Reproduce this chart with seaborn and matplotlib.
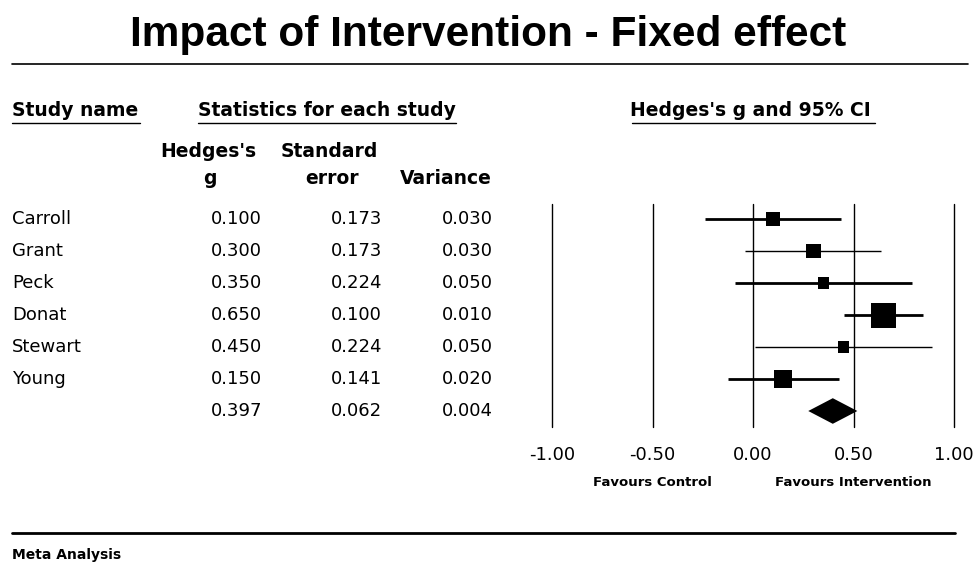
import numpy as np
import matplotlib
matplotlib.use("Agg")
import matplotlib.pyplot as plt
import seaborn as sns
from matplotlib.lines import Line2D

# Forest plot data
studies = ["Carroll", "Grant", "Peck", "Donat", "Stewart", "Young"]
hedges_g = [0.100, 0.300, 0.350, 0.650, 0.450, 0.150]
std_err = [0.173, 0.173, 0.224, 0.100, 0.224, 0.141]
variance = [0.030, 0.030, 0.050, 0.010, 0.050, 0.020]
ci_lower = [-0.239, -0.039, -0.089, 0.454, 0.011, -0.126]
ci_upper = [0.439, 0.639, 0.789, 0.846, 0.889, 0.426]

summary_g = 0.397
summary_se = 0.062
summary_var = 0.004
summary_lower = 0.275
summary_upper = 0.519

x_ticks = [-1.0, -0.5, 0.0, 0.5, 1.0]

# Styling
sns.set_theme(style="white")
plt.rcParams['font.family'] = ['DejaVu Sans']
plt.rcParams['text.color'] = 'black'
plt.rcParams['xtick.color'] = 'black'
plt.rcParams['axes.labelcolor'] = 'black'
W, H = 977, 564
BODY_FS = 13
HEAD_FS = 13.5
ci_widths = [2.0, 1.0, 2.0, 2.0, 1.0, 2.0]


def fx(x):
    return x / W


def fy(y):
    return 1 - y / H


fig = plt.figure(figsize=(W / 100, H / 100), dpi=100)
fig.patch.set_facecolor('white')

# forest axes: x -1..1 mapped to pixels 552..954, rows from 204 to 427
row_top, row_bot = 204, 427
ax = fig.add_axes([fx(552), fy(row_bot), (954 - 552) / W, (row_bot - row_top) / H])
n_rows = len(studies) + 1
ax.set_xlim(-1, 1)
ax.set_ylim(n_rows - 0.5, (row_top - 219) / 32)
for s in ax.spines.values():
    s.set_visible(False)
ax.set_facecolor('none')

for t in x_ticks:
    ax.axvline(t, color='black', lw=1.0, clip_on=False)

rows = np.arange(len(studies))
for i in rows:
    ax.hlines(i, ci_lower[i], ci_upper[i], color='black', lw=ci_widths[i])

weights = [1 / v for v in variance]
sns.scatterplot(x=hedges_g, y=rows, size=weights,
                sizes=(3.24 * min(weights), 3.24 * max(weights)),
                marker='s', color='black', linewidth=0, legend=False, ax=ax, zorder=3)

# summary diamond
sy = len(studies)
ax.fill([summary_lower, summary_g, summary_upper, summary_g],
        [sy, sy - 0.4, sy, sy + 0.4], color='black', lw=0, zorder=3)

ax.set_xticks(x_ticks)
ax.set_xticklabels([f"{t:.2f}" for t in x_ticks], fontsize=BODY_FS)
ax.set_yticks([])
ax.tick_params(axis='x', length=0, pad=14, colors='black')
ax.set_xlabel("")
ax.set_ylabel("")

# Title and rules
fig.text(fx(488), fy(35), "Impact of Intervention - Fixed effect",
         fontsize=30.5, fontweight='bold', ha='center', va='center',
         family=['Liberation Sans Narrow', 'Liberation Sans'])
fig.add_artist(Line2D([fx(12), fx(968)], [fy(64), fy(64)], color='black', lw=1.2))
fig.add_artist(Line2D([fx(12), fx(955)], [fy(533), fy(533)], color='black', lw=2.0))

# Column headers
fig.text(fx(12), fy(110), "Study name", fontsize=HEAD_FS, fontweight='bold', va='center')
fig.add_artist(Line2D([fx(12), fx(140)], [fy(123), fy(123)], color='black', lw=1.0))
fig.text(fx(198), fy(110), "Statistics for each study", fontsize=HEAD_FS, fontweight='bold', va='center')
fig.add_artist(Line2D([fx(198), fx(456)], [fy(123), fy(123)], color='black', lw=1.0))
fig.text(fx(630), fy(110), "Hedges's g and 95% CI", fontsize=HEAD_FS, fontweight='bold', va='center')
fig.add_artist(Line2D([fx(632), fx(875)], [fy(123), fy(123)], color='black', lw=1.0))

fig.text(fx(208), fy(152), "Hedges's", fontsize=HEAD_FS, fontweight='bold', ha='center', va='center')
fig.text(fx(210), fy(178), "g", fontsize=HEAD_FS, fontweight='bold', ha='center', va='center')
fig.text(fx(329), fy(152), "Standard", fontsize=HEAD_FS, fontweight='bold', ha='center', va='center')
fig.text(fx(332), fy(178), "error", fontsize=HEAD_FS, fontweight='bold', ha='center', va='center')
fig.text(fx(446), fy(178), "Variance", fontsize=HEAD_FS, fontweight='bold', ha='center', va='center')

# Table rows
for i, name in enumerate(studies):
    y = 219 + 32 * i
    fig.text(fx(12), fy(y), name, fontsize=BODY_FS, va='center')
    fig.text(fx(262), fy(y), f"{hedges_g[i]:.3f}", fontsize=BODY_FS, ha='right', va='center')
    fig.text(fx(382), fy(y), f"{std_err[i]:.3f}", fontsize=BODY_FS, ha='right', va='center')
    fig.text(fx(493), fy(y), f"{variance[i]:.3f}", fontsize=BODY_FS, ha='right', va='center')
y = 219 + 32 * len(studies)
fig.text(fx(262), fy(y), f"{summary_g:.3f}", fontsize=BODY_FS, ha='right', va='center')
fig.text(fx(382), fy(y), f"{summary_se:.3f}", fontsize=BODY_FS, ha='right', va='center')
fig.text(fx(493), fy(y), f"{summary_var:.3f}", fontsize=BODY_FS, ha='right', va='center')

# Favours labels
fig.text(fx(652), fy(483), "Favours Control", fontsize=9.5, fontweight='bold', ha='center', va='center')
fig.text(fx(853), fy(483), "Favours Intervention", fontsize=9.5, fontweight='bold', ha='center', va='center')

fig.text(fx(12), fy(555), "Meta Analysis", fontsize=10, fontweight='bold', va='center')

fig.savefig("out.png", dpi=100, facecolor='white')
